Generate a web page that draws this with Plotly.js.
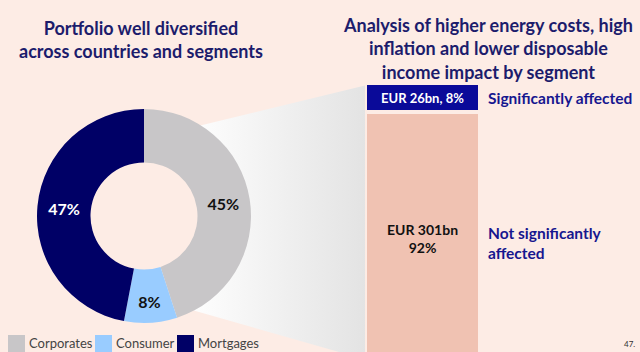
<!DOCTYPE html>
<html><head><meta charset="utf-8">
<script src="https://cdn.plot.ly/plotly-3.0.1.min.js"></script>
<style>html,body{margin:0;padding:0;background:#fdece5;}</style>
</head><body><div id="chart" style="width:640px;height:352px;"></div>
<script>
// Data
const segments = ['Corporates', 'Consumer', 'Mortgages'];
const segmentShare = [45, 8, 47];
const segmentColors = ['#c8c6c8', '#99ccff', '#000066'];

const impactCategories = ['Not significantly affected', 'Significantly affected'];
const impactAmount = [301, 26];      // EUR bn
const impactShare = [92, 8];         // %
const impactColors = ['#f0c2b2', '#0a0a99'];

const leftTitle = 'Portfolio well diversified<br>across countries and segments';
const rightTitle = 'Analysis of higher energy costs, high<br>inflation and lower disposable<br>income impact by segment';
const pageNumber = '47.';

const W = 640, H = 352, BG = '#fdece5';
const navy = '#1c1c6c';

// funnel decoration (pixel space), left edge hidden inside the ring
const funnel = {
  x: [190, 367, 367, 185, 215, 224, 215, 190],
  y: [128, 85, 360, 308, 260, 216, 172, 128]
};

const traces = [
  {
    type: 'scatter', mode: 'lines', x: funnel.x, y: funnel.y,
    xaxis: 'x', yaxis: 'y', fill: 'toself', line: {width: 0},
    fillgradient: {type: 'horizontal', colorscale: [[0, '#ffffff'], [1, '#e3e3e3']]},
    hoverinfo: 'skip', showlegend: false
  },
  {
    type: 'bar', x: ['seg'], y: [impactAmount[0]], name: impactCategories[0],
    xaxis: 'x2', yaxis: 'y2', marker: {color: impactColors[0], line: {color: BG, width: 4}},
    showlegend: false, hoverinfo: 'skip'
  },
  {
    type: 'bar', x: ['seg'], y: [impactAmount[1]], name: impactCategories[1],
    xaxis: 'x2', yaxis: 'y2', marker: {color: impactColors[1], line: {color: BG, width: 4}},
    showlegend: false, hoverinfo: 'skip'
  },
  {
    type: 'pie', labels: segments, values: segmentShare, sort: false,
    direction: 'clockwise', rotation: 0, hole: 0.5,
    marker: {colors: segmentColors},
    domain: {x: [37 / W, 251 / W], y: [(136 - 107) / H, (136 + 107) / H]},
    texttemplate: '%{value}%', textposition: 'inside', insidetextorientation: 'horizontal',
    textfont: {family: 'Lato', size: 16, color: ['#111111', '#111111', '#ffffff'], weight: 'bold'},
    hoverinfo: 'skip', showlegend: false
  }
];

const annotations = [
  {text: '<b>' + leftTitle + '</b>', xref: 'paper', yref: 'paper', x: 141 / W, y: 1 - 39 / H,
   xanchor: 'center', yanchor: 'middle', showarrow: false, align: 'center',
   font: {family: 'Lato', size: 18, color: navy}},
  {text: '<b>' + rightTitle + '</b>', xref: 'paper', yref: 'paper', x: 488 / W, y: 1 - 49 / H,
   xanchor: 'center', yanchor: 'middle', showarrow: false, align: 'center',
   font: {family: 'Lato', size: 18, color: navy}},
  {text: '<b>EUR ' + impactAmount[1] + 'bn, ' + impactShare[1] + '%</b>', xref: 'x2', yref: 'paper',
   x: 0, y: 1 - 98 / H, xanchor: 'center', yanchor: 'middle', showarrow: false,
   font: {family: 'Lato', size: 13, color: '#ffffff'}},
  {text: '<b>EUR ' + impactAmount[0] + 'bn<br>' + impactShare[0] + '%</b>', xref: 'x2', yref: 'paper',
   x: 0, y: 1 - 238 / H, xanchor: 'center', yanchor: 'middle', showarrow: false, align: 'center',
   font: {family: 'Lato', size: 14, color: '#111111'}},
  {text: '<b>Significantly affected</b>', xref: 'paper', yref: 'paper', x: 486 / W, y: 1 - 98 / H,
   xanchor: 'left', yanchor: 'middle', showarrow: false,
   font: {family: 'Lato', size: 15.5, color: '#16168f'}},
  {text: '<b>Not significantly<br>affected</b>', xref: 'paper', yref: 'paper', x: 486 / W, y: 1 - 243 / H,
   xanchor: 'left', yanchor: 'middle', showarrow: false, align: 'left',
   font: {family: 'Lato', size: 15.5, color: '#16168f'}},
  {text: pageNumber, xref: 'paper', yref: 'paper', x: 637 / W, y: 1 - 344 / H,
   xanchor: 'right', yanchor: 'middle', showarrow: false,
   font: {family: 'Lato', size: 8, color: '#333333'}}
];

// legend built from the category arrays
const legendStartX = [8, 95, 177];
const shapes = [];
segments.forEach((name, i) => {
  const x0 = legendStartX[i];
  shapes.push({type: 'rect', xref: 'paper', yref: 'paper',
    x0: x0 / W, x1: (x0 + 17) / W, y0: 1 - 352 / H, y1: 1 - 335 / H,
    fillcolor: segmentColors[i], line: {width: 0}});
  annotations.push({text: name, xref: 'paper', yref: 'paper', x: (x0 + 19) / W, y: 1 - 343 / H,
    xanchor: 'left', yanchor: 'middle', showarrow: false,
    font: {family: 'Lato', size: 13, color: '#444444'}});
});

const layout = {
  width: W, height: H, margin: {l: 0, r: 0, t: 0, b: 0},
  paper_bgcolor: BG, plot_bgcolor: 'rgba(0,0,0,0)',
  xaxis: {domain: [0, 1], range: [0, W], visible: false, fixedrange: true},
  yaxis: {domain: [0, 1], range: [H, 0], visible: false, fixedrange: true},
  xaxis2: {domain: [365 / W, 480 / W], anchor: 'y2', range: [-0.5, 0.5], visible: false},
  yaxis2: {domain: [0, (H - 83) / H], anchor: 'x2', range: [86, 327], visible: false},
  barmode: 'stack', bargap: 0,
  showlegend: false,
  shapes: shapes,
  annotations: annotations
};

Plotly.newPlot('chart', traces, layout, {displayModeBar: false, staticPlot: true});
</script></body></html>
